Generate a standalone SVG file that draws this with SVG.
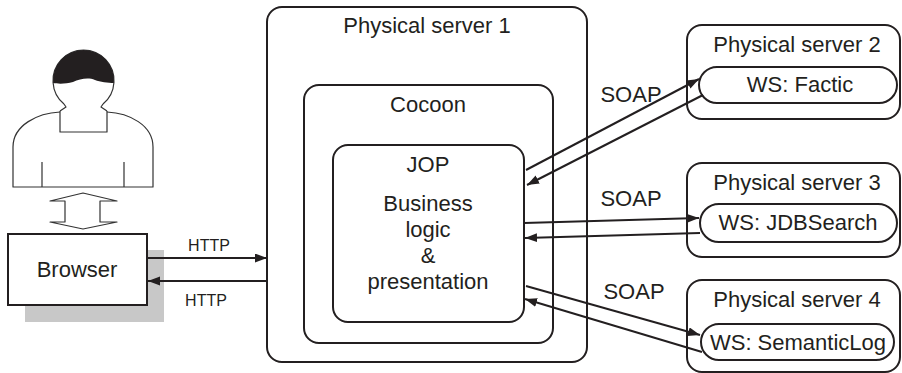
<svg xmlns="http://www.w3.org/2000/svg" width="902" height="373" viewBox="0 0 902 373">
  <style>
    .box { fill: none; stroke: #231f20; stroke-width: 2; }
    .pill { fill: #fff; stroke: #231f20; stroke-width: 2; }
    .lbl { font-family: "Liberation Sans", Arial, sans-serif; font-size: 22px; fill: #231f20; text-anchor: middle; }
    .small { font-size: 16px; }
    .conn { fill: none; stroke: #231f20; stroke-width: 2; marker-end: url(#arrow); }
    .fig { fill: none; stroke: #333; stroke-width: 1.2; stroke-linejoin: round; }
  </style>
  <defs>
    <marker id="arrow" markerUnits="userSpaceOnUse" markerWidth="13" markerHeight="10" refX="12" refY="4.5" orient="auto">
      <path d="M0,0 L12,4.5 L0,9 Z" fill="#231f20"/>
    </marker>
  </defs>
  <rect width="902" height="373" fill="#fff"/>

  <!-- user figure -->
  <g id="user">
    <path class="fig" fill="#fff" d="M64,104 A30.5,30.5 0 1 1 103,104"/>
    <path d="M53.1,83 A30.5,30.5 0 1 1 113.9,83 C108,83 100,82 95,80 C88,77 80,79 73,82 C66,84 58,84 53.1,83 Z" fill="#231f20"/>
    <path class="fig" d="M64,104 L66,107 L60,111 M103,104 L101,107 L107,111"/>
    <path class="fig" d="M60,111 V132 H107 V111"/>
    <path class="fig" d="M60,112 C38,113 13,125 13,147 V187 H153 V147 C153,125 129,113 107,112"/>
    <path class="fig" d="M42,162 V187 M124,162 V187"/>
  </g>

  <!-- two-way arrow between user and browser -->
  <g id="user-browser">
    <polygon class="fig" points="83,193 117,201 100,201 100,222 117,222 83,229 50,222 65,222 65,201 50,201"/>
  </g>

  <!-- browser with drop shadow -->
  <g id="browser">
    <rect x="25" y="250" width="139" height="72" fill="#c8c8c8"/>
    <rect x="8" y="234" width="139" height="71" fill="#fff" stroke="#231f20" stroke-width="2"/>
    <text class="lbl" x="77" y="277">Browser</text>
  </g>

  <!-- main server with nested containers -->
  <g id="server1">
    <rect class="box" x="267" y="7" width="320" height="355" rx="15"/>
    <text class="lbl" x="427" y="33">Physical server 1</text>
  </g>
  <g id="cocoon">
    <rect class="box" x="304" y="85" width="249" height="258" rx="15"/>
    <text class="lbl" x="428" y="112">Cocoon</text>
  </g>
  <g id="jop">
    <rect class="box" x="333" y="145" width="191" height="177" rx="15"/>
    <text class="lbl" x="428" y="172">JOP</text>
    <text class="lbl" x="428" y="211">Business</text>
    <text class="lbl" x="428" y="237">logic</text>
    <text class="lbl" x="428" y="263">&amp;</text>
    <text class="lbl" x="428" y="289">presentation</text>
  </g>

  <!-- web service hosts -->
  <g id="server2">
    <rect class="box" x="687" y="25" width="213" height="94" rx="15"/>
    <text class="lbl" x="797" y="52">Physical server 2</text>
    <rect class="pill" x="699" y="67" width="198" height="36" rx="18"/>
    <text class="lbl" x="800" y="92">WS: Factic</text>
  </g>
  <g id="server3">
    <rect class="box" x="687" y="163" width="213" height="94" rx="15"/>
    <text class="lbl" x="797" y="190">Physical server 3</text>
    <rect class="pill" x="700" y="204" width="197" height="38" rx="19"/>
    <text class="lbl" x="798" y="230">WS: JDBSearch</text>
  </g>
  <g id="server4">
    <rect class="box" x="687" y="280" width="213" height="92" rx="15"/>
    <text class="lbl" x="797" y="307">Physical server 4</text>
    <rect class="pill" x="701" y="324" width="193" height="36" rx="18"/>
    <text class="lbl" x="798" y="350">WS: SemanticLog</text>
  </g>

  <!-- connectors -->
  <g id="connectors">
    <line class="conn" x1="147" y1="258" x2="267" y2="258"/>
    <line class="conn" x1="267" y1="281" x2="148" y2="281"/>
    <text class="lbl small" x="209" y="251">HTTP</text>
    <text class="lbl small" x="206" y="306">HTTP</text>

    <line class="conn" x1="526" y1="170" x2="699" y2="79"/>
    <line class="conn" x1="703" y1="95" x2="527" y2="185"/>
    <text class="lbl" x="631" y="102">SOAP</text>

    <line class="conn" x1="524" y1="223" x2="699" y2="218"/>
    <line class="conn" x1="700" y1="233" x2="525" y2="238"/>
    <text class="lbl" x="631" y="206">SOAP</text>

    <line class="conn" x1="526" y1="286" x2="700" y2="335"/>
    <line class="conn" x1="702" y1="352" x2="525" y2="299"/>
    <text class="lbl" x="634" y="299">SOAP</text>
  </g>
</svg>
